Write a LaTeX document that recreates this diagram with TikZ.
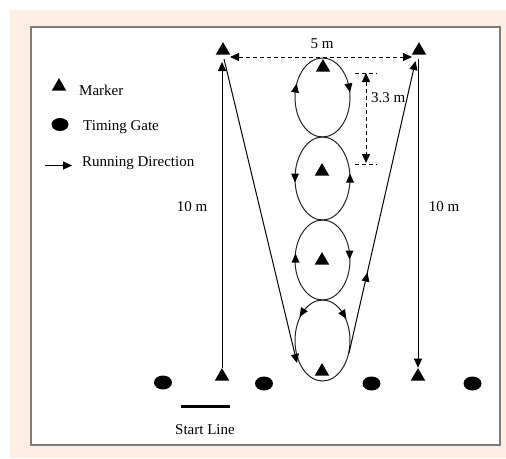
\documentclass[tikz,border=0pt]{standalone}
\usepackage{fontspec}
\setmainfont{Liberation Serif}
\usetikzlibrary{shapes.geometric,arrows.meta}
\definecolor{peach}{RGB}{253,238,228}
\definecolor{framegray}{RGB}{125,125,125}
\definecolor{linegray}{RGB}{35,35,35}
\newcommand\arrhd[3]{\fill[shift={(#1,#2)},rotate=#3] (4.5pt,0pt) -- (-4.5pt,4pt) -- (-4.5pt,-4pt) -- cycle;}
\begin{document}
\begin{tikzpicture}[x=1pt,y=-1pt,
  marker/.style={regular polygon, regular polygon sides=3, fill=black, inner sep=0pt, minimum size=16.8pt},
  gate/.style={ellipse, fill=black, inner sep=0pt, minimum width=18pt, minimum height=14pt},
  loopshape/.style={ellipse, draw=linegray, line width=1pt, inner sep=0pt, minimum width=55pt},
  lbl/.style={inner sep=0pt, font=\fontsize{15}{18}\selectfont},
  run/.style={line width=1pt, -{Triangle[length=9pt,width=8pt]}},
  dim/.style={line width=0.9pt, dash pattern=on 4pt off 3pt},
  dimarr/.style={dim, {Triangle[length=9pt,width=8pt]}-{Triangle[length=9pt,width=8pt]}},
]
\useasboundingbox (0,0) rectangle (506,458);
\fill[peach] (10,10) rectangle (506,458);
\draw[framegray, line width=1.5pt, fill=white] (31,27) rectangle (500,445);

% loops
\node[loopshape, minimum height=79pt] (loop1) at (322.5,97.5) {};
\node[loopshape, minimum height=83pt] (loop2) at (322.5,178.5) {};
\node[loopshape, minimum height=80pt] (loop3) at (322.5,260) {};
\node[loopshape, minimum height=81pt] (loop4) at (322.5,340.5) {};

% markers
\node[marker] (tl) at (223,50.5) {};
\node[marker] (tr) at (419,50.5) {};
\node[marker] (bl) at (222,376.5) {};
\node[marker] (br) at (418,376.5) {};
\node[marker] (m1) at (323,67.5) {};
\node[marker] (m2) at (322,171.5) {};
\node[marker] (m3) at (322,260.5) {};
\node[marker] (m4) at (322,371.5) {};
\node[marker] (legm) at (59,86.5) {};

% timing gates
\node[gate] (g1) at (163,382.5) {};
\node[gate] (g2) at (264,383.5) {};
\node[gate] (g3) at (371.5,383.5) {};
\node[gate] (g4) at (472.5,383.5) {};
\node[gate, minimum width=17pt, minimum height=13pt] (legg) at (60,124.5) {};

% running path
\coordinate (tlv) at (222,62);
\coordinate (tld) at (224,59);
\coordinate (l4in) at (297,363);
\coordinate (l4out) at (349,353);
\coordinate (trd) at (415.5,61);
\coordinate (trv) at (418,59);
\draw[run] (bl.corner 1) -- (tlv);
\draw[run] (tld) -- (l4in);
\draw[run] (l4out) -- (trd);
\draw[run] (trv) -- (br.corner 1);
\arrhd{366.5}{277}{77}

% loop arrows
\arrhd{295.8}{88}{80}
\arrhd{349.2}{88}{-80}
\arrhd{295}{178}{-90}
\arrhd{350}{178}{90}
\arrhd{295.5}{258}{90}
\arrhd{349.5}{255}{-90}
\arrhd{302}{313}{-122}
\arrhd{344}{315}{-58}

% dimensions
\coordinate (d5l) at (230,57);
\coordinate (d5r) at (412,57);
\draw[dimarr] (d5l) -- (d5r);
\coordinate (d3t) at (366,73);
\coordinate (d3b) at (366,163);
\draw[dimarr] (d3t) -- (d3b);
\draw[dim] (355,73) -- (377,73);
\draw[dim] (355,164) -- (377,164);

% start line
\draw[line width=3.3pt] (181,406.7) -- (230,406.7);

% legend arrow
\coordinate (la1) at (45,165.5);
\coordinate (la2) at (72,165.5);
\draw[run] (la1) -- (la2);

% labels
\node[lbl, anchor=base west] (tm) at (79,95) {Marker};
\node[lbl, anchor=base west] (tg) at (83,130) {Timing Gate};
\node[lbl, anchor=base west] (trd2) at (82,166) {Running Direction};
\node[lbl, anchor=base] (t5) at (322,48) {5 m};
\node[lbl, anchor=base west] (t33) at (371,102) {3.3 m};
\node[lbl, anchor=base] (t10l) at (192,211) {10 m};
\node[lbl, anchor=base] (t10r) at (444,211) {10 m};
\node[lbl, anchor=base] (tsl) at (205,434) {Start Line};
\end{tikzpicture}
\end{document}
